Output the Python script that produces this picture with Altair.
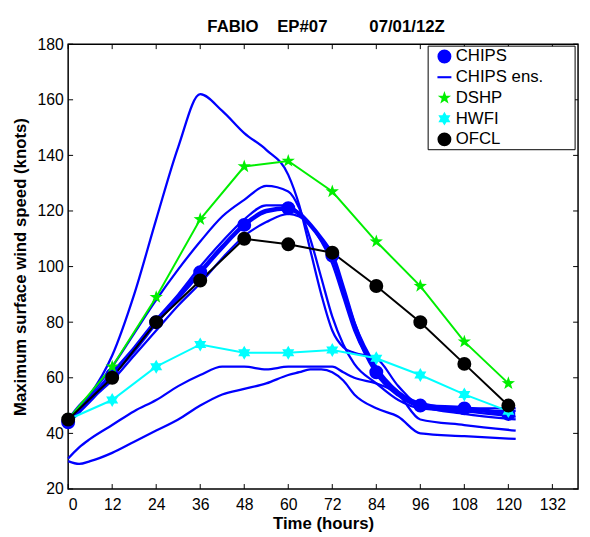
import math
import altair as alt
import pandas as pd

TITLE = "FABIO\u00a0\u00a0\u00a0\u00a0EP#07\u00a0\u00a0\u00a0\u00a0\u00a0\u00a0\u00a0\u00a0\u00a007/01/12Z"
X_TICKS = list(range(0, 133, 12))
Y_TICKS = list(range(20, 181, 20))

SERIES = ["CHIPS", "CHIPS ens.", "DSHP", "HWFI", "OFCL"]
COLORS = ["#0000ff", "#0000ff", "#00ee00", "#00ffff", "#000000"]

# ensemble members (thin blue lines)
HOURS_ENS = [0, 3, 6, 12, 18, 24, 30, 36, 42, 48, 54, 60, 63, 66, 69, 72, 75, 78, 84, 90, 96, 108, 122]
ENS_A = [45, 49, 54, 68, 90, 117, 143, 162, 156, 148, 142, 133, 122, 106, 90, 77, 71, 69, 67, 57, 50, 48, 46]
ENS_B = [45, 50, 54, 64, 76, 88, 99, 109, 118, 124, 129, 127, 121, 110, 96, 82, 72, 65, 58, 52, 49, 48, 48]
ENS_C1 = [45, 49, 53, 62, 71, 81, 90, 100, 109, 117, 122, 122, 119, 115, 109, 101, 89, 77, 63, 55, 51, 49, 49]
ENS_C2 = [45, 48, 52, 59, 68, 77, 86, 94, 103, 111, 116, 119, 118, 115, 110, 103, 92, 80, 64, 55, 50, 47, 45]
ENS_E = [31, 35, 38, 43, 48, 52, 57, 61, 64, 64, 63, 64, 64, 64, 64, 64, 62, 60, 58, 54, 45, 43, 41]
ENS_F = [30, 29, 30, 33, 37, 41, 45, 50, 54, 56, 58, 61, 62, 63, 63, 62, 59, 54, 49, 46, 40, 39, 38]

# CHIPS ensemble mean (thick blue line, circles every 12 h)
HOURS_MEAN = [0, 3, 6, 12, 18, 24, 30, 36, 42, 48, 54, 60, 63, 66, 69, 72, 75, 78, 84, 90, 96, 108, 120]
CHIPS = [44, 48, 52, 61, 70, 80, 89, 98, 107, 115, 120, 121, 119, 115, 110, 104, 92, 79, 62, 54, 50, 49, 47]

HOURS_12 = [0, 12, 24, 36, 48, 60, 72, 84, 96, 108, 120]
DSHP = [45, 64, 89, 117, 136, 138, 127, 109, 93, 73, 58]
HWFI = [45, 52, 64, 72, 69, 69, 70, 67, 61, 54, 48]
OFCL = [45, 60, 80, 95, 110, 108, 105, 93, 80, 65, 50]


def star(n, inner):
    pts = []
    for k in range(2 * n):
        r = 1.0 if k % 2 == 0 else inner
        a = -math.pi / 2 + k * math.pi / n
        pts.append(f"{r * math.cos(a):.3f},{r * math.sin(a):.3f}")
    return "M" + "L".join(pts) + "Z"


SHAPES = ["circle", "M-1,-0.15L1,-0.15L1,0.15L-1,0.15Z", star(5, 0.4), star(6, 0.577), "circle"]

W, H = 517, 451
FONT = "Liberation Sans"

ens_rows = []
for name, vals in [("A", ENS_A), ("B", ENS_B), ("C1", ENS_C1), ("C2", ENS_C2), ("E", ENS_E), ("F", ENS_F)]:
    for h, v in zip(HOURS_ENS, vals):
        ens_rows.append({"member": name, "hour": h, "value": v})
ens_df = pd.DataFrame(ens_rows)
mean_df = pd.DataFrame({"hour": HOURS_MEAN, "value": CHIPS})

pt_rows = [{"series": "CHIPS", "hour": h, "value": v, "k": 0} for h, v in zip(HOURS_MEAN, CHIPS) if h % 12 == 0]
for i, (name, vals) in enumerate([("DSHP", DSHP), ("HWFI", HWFI), ("OFCL", OFCL)]):
    pt_rows += [{"series": name, "hour": h, "value": v, "k": i + 1} for h, v in zip(HOURS_12, vals)]
pts_df = pd.DataFrame(pt_rows)

xs = alt.Scale(domain=[0, 139], nice=False, zero=False)
ys = alt.Scale(domain=[20, 180], nice=False, zero=False)
X = alt.X("hour:Q", scale=xs, axis=alt.Axis(values=X_TICKS, title="Time (hours)", labelPadding=8, titlePadding=3))
Y = alt.Y("value:Q", scale=ys, axis=alt.Axis(values=Y_TICKS, title="Maximum surface wind speed (knots)", labelPadding=5, titlePadding=8))

ens = alt.Chart(ens_df).mark_line(color="#0000ff", strokeWidth=2.3, interpolate="monotone").encode(
    x=X, y=Y, detail="member:N")
mean_line = alt.Chart(mean_df).mark_line(color="#0000ff", strokeWidth=4.5, interpolate="monotone").encode(x=X, y=Y)


def simple_line(vals, color):
    df = pd.DataFrame({"hour": HOURS_12, "value": vals})
    return alt.Chart(df).mark_line(color=color, strokeWidth=2).encode(x=X, y=Y)


# legend frame (white box behind the legend entries)
box = alt.Chart(pd.DataFrame({"b": [0]})).mark_rect(fill="white", stroke="black", strokeWidth=1).encode(
    x=alt.value(365), x2=alt.value(514), y=alt.value(2), y2=alt.value(107))

leg = alt.Legend(title=None, orient="none", legendX=370, legendY=1, direction="vertical",
                 padding=3, labelFont=FONT, labelFontSize=17,
                 labelColor="black", symbolSize=200, symbolStrokeWidth=0, rowPadding=3, labelOffset=3)

points = alt.Chart(pts_df).mark_point(filled=True, size=200, opacity=1).encode(
    x=X, y=Y,
    color=alt.Color("series:N", scale=alt.Scale(domain=SERIES, range=COLORS), legend=leg),
    shape=alt.Shape("series:N", scale=alt.Scale(domain=SERIES, range=SHAPES), legend=leg),
    order=alt.Order("k:Q"),
)

xt = pd.DataFrame({"hour": X_TICKS})
yt = pd.DataFrame({"value": Y_TICKS})
tb = alt.Chart(xt).mark_rule(color="black", strokeWidth=1).encode(x=X, y=alt.value(H), y2=alt.value(H - 5))
tt = alt.Chart(xt).mark_rule(color="black", strokeWidth=1).encode(x=X, y=alt.value(0), y2=alt.value(5))
tl = alt.Chart(yt).mark_rule(color="black", strokeWidth=1).encode(y=Y, x=alt.value(0), x2=alt.value(5))
tr = alt.Chart(yt).mark_rule(color="black", strokeWidth=1).encode(y=Y, x=alt.value(W - 5), x2=alt.value(W))

chart = alt.layer(
    ens, mean_line,
    simple_line(DSHP, "#00ee00"), simple_line(HWFI, "#00ffff"), simple_line(OFCL, "#000000"),
    points, tb, tt, tl, tr, box,
).properties(
    width=W, height=H,
    title=alt.TitleParams(TITLE, font=FONT, fontSize=17, fontWeight="bold", color="black",
                          anchor="middle", offset=0, dx=3),
    autosize=alt.AutoSizeParams(type="none"),
    padding={"left": 61, "top": 33, "right": 4, "bottom": 45},
).configure_view(
    stroke="black", strokeWidth=1.5
).configure_axis(
    labelFont=FONT, labelFontSize=16, labelColor="black",
    titleFont=FONT, titleFontSize=17, titleFontWeight="bold", titleColor="black",
    ticks=False, tickSize=0, domain=False, grid=False,
)

chart.save("out.html", embed_options={"renderer": "svg", "actions": False})
